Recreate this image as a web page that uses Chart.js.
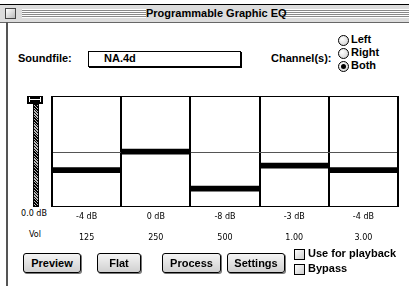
<!DOCTYPE html>
<html lang="en">
<head>
<meta charset="UTF-8">
<title>Programmable Graphic EQ</title>
<script src="https://cdn.jsdelivr.net/npm/chart.js"></script>
<style>
  body { margin: 0; width: 409px; height: 286px; background: #fff; position: relative; overflow: hidden;
         font-family: 'Liberation Sans', sans-serif; }
  .abs { position: absolute; white-space: nowrap; }
  #titlebar { left: 0; top: 4px; width: 409px; height: 17px; background: #dcdcdc;
              border-top: 1px solid #000; border-bottom: 1px solid #666; }
  .stripes { position: absolute; top: 4px; height: 9px;
             background: repeating-linear-gradient(#fff 0 1px, #8a8a8a 1px 2px); }
  #closebox { position: absolute; left: 5px; top: 3px; width: 9px; height: 9px; border: 1px solid #444;
              background: linear-gradient(135deg, #fff, #bbb); }
  #title { position: absolute; left: 146px; top: 1px; width: 136px; text-align: center; white-space: nowrap;
           font: bold 11px 'Liberation Sans', sans-serif; color: #000; line-height: 15px; }
  #leftedge { left: 6px; top: 22px; width: 2px; height: 264px; background: #555; }
  .lbl { font: bold 11px 'Liberation Sans', sans-serif; color: #000; }
  .small { font: 8px 'DejaVu Sans', sans-serif; color: #000; }
  #filebox { left: 88px; top: 51px; width: 151px; height: 14px; border: 1px solid #000;
             box-shadow: 1px 1px 0 #000; }
  .radio { width: 9px; height: 9px; border: 1px solid #000; border-radius: 50%;
           background: radial-gradient(circle at 35% 35%, #fff, #ccc); }
  .radio.on::after { content: ''; position: absolute; left: 2px; top: 2px; width: 5px; height: 5px;
                     border-radius: 50%; background: #000; }
  .btn { top: 253px; height: 18px; border: 1px solid #000; border-radius: 3px;
         background: linear-gradient(#f4f4f4, #d0d0d0); box-shadow: 1px 1px 0 #777;
         font: bold 11px 'Liberation Sans', sans-serif; text-align: center; line-height: 18px; }
  .check { width: 9px; height: 9px; border: 1px solid #000; background: linear-gradient(135deg, #fff, #ccc); }
  #track { left: 33px; top: 104px; width: 4px; height: 101px; border: 1px solid #000;
           background: repeating-linear-gradient(45deg, #000 0 1px, #bbb 1px 2px); }
  #knob { left: 27px; top: 96px; width: 16px; height: 8px; background: #000; }
  #knob::before { content: ''; position: absolute; left: 2px; top: 3px; width: 12px; height: 1px; background: #fff; }
  #knob::after { content: ''; position: absolute; left: 2px; top: 1px; width: 10px; height: 5px;
                 border-left: 1px solid #fff; border-right: 1px solid #fff; }
  #eq { left: 51px; top: 95px; }
</style>
</head>
<body>
<div id="titlebar" class="abs">
  <div id="closebox"></div>
  <div class="stripes" style="left:22px; width:124px"></div>
  <div class="stripes" style="left:282px; width:127px"></div>
  <div id="title">Programmable Graphic EQ</div>
</div>
<div id="leftedge" class="abs"></div>

<div class="abs lbl" style="left:18px; top:52px">Soundfile:</div>
<div id="filebox" class="abs"><span class="lbl" style="position:absolute; left:15px; top:0px">NA.4d</span></div>
<div class="abs lbl" style="left:271px; top:52px">Channel(s):</div>
<div class="abs radio" style="left:338px; top:35px"></div>
<div class="abs lbl" style="left:351px; top:33px">Left</div>
<div class="abs radio" style="left:338px; top:48px"></div>
<div class="abs lbl" style="left:351px; top:46px">Right</div>
<div class="abs radio on" style="left:338px; top:61px"></div>
<div class="abs lbl" style="left:351px; top:59px">Both</div>

<div id="track" class="abs"></div>
<div id="knob" class="abs"></div>
<div class="abs small" style="left:18px; top:209px; width:32px; text-align:center">0.0 dB</div>
<div class="abs small" style="left:19px; top:230px; width:32px; text-align:center">Vol</div>

<canvas id="eq" class="abs" width="349" height="156"></canvas>

<div class="abs btn" style="left:23px; width:56px">Preview</div>
<div class="abs btn" style="left:97px; width:42px">Flat</div>
<div class="abs btn" style="left:162px; width:57px">Process</div>
<div class="abs btn" style="left:227px; width:56px">Settings</div>
<div class="abs check" style="left:294px; top:249px"></div>
<div class="abs lbl" style="left:308px; top:247px">Use for playback</div>
<div class="abs check" style="left:294px; top:264px"></div>
<div class="abs lbl" style="left:308px; top:262px">Bypass</div>

<script>
  // band settings of the equaliser
  const bands = ['125', '250', '500', '1.00', '3.00'];
  const gains = [-4, 0, -8, -3, -4];
  const gainMin = -12.5;
  const gainMax = 11.5;
  const barDepth = 1.1; // thickness of a gain bar in dB

  // frame round the plot and the thin middle line
  const eqFrame = {
    id: 'eqFrame',
    beforeDatasetsDraw(chart) {
      const a = chart.chartArea;
      const ctx = chart.ctx;
      ctx.save();
      ctx.strokeStyle = '#555';
      ctx.lineWidth = 1;
      const mid = Math.round((a.top + a.bottom) / 2) + 0.5;
      ctx.beginPath();
      ctx.moveTo(a.left, mid);
      ctx.lineTo(a.right, mid);
      ctx.stroke();
      ctx.strokeStyle = '#000';
      ctx.strokeRect(a.left + 0.5, a.top + 0.5, a.right - a.left - 1, a.bottom - a.top - 1);
      ctx.restore();
    }
  };

  new Chart(document.getElementById('eq'), {
    type: 'bar',
    data: {
      labels: bands.map((b, i) => [gains[i] + ' dB', b]),
      datasets: [{
        data: gains.map(g => [g - barDepth, g]),
        backgroundColor: '#000',
        borderWidth: 0,
        barPercentage: 1,
        categoryPercentage: 1
      }]
    },
    options: {
      responsive: false,
      animation: false,
      events: [],
      layout: { padding: { top: 1, left: 1, right: 2, bottom: 4 } },
      plugins: { legend: { display: false }, tooltip: { enabled: false } },
      scales: {
        x: {
          grid: { offset: true, color: '#000', lineWidth: 2, drawTicks: false },
          border: { display: false },
          ticks: {
            color: '#000',
            padding: -1,
            maxRotation: 0,
            font: { family: 'DejaVu Sans', size: 8, lineHeight: '21px' }
          }
        },
        y: {
          display: false,
          min: gainMin,
          max: gainMax
        }
      }
    },
    plugins: [eqFrame]
  });
</script>
</body>
</html>
